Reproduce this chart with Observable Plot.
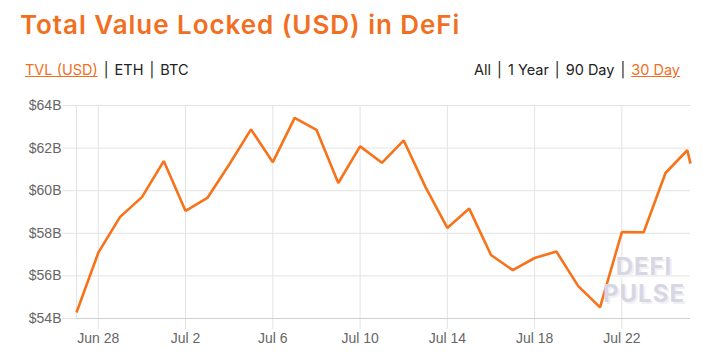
<!DOCTYPE html>
<html>
<head>
<meta charset="utf-8">
<script src="https://cdn.jsdelivr.net/npm/d3@7"></script>
<script src="https://cdn.jsdelivr.net/npm/@observablehq/plot@0.6"></script>
<style>
  html, body { margin: 0; padding: 0; background: #fff; }
  body { width: 703px; height: 355px; position: relative; overflow: hidden; font-family: Inter, "Open Sans", sans-serif; }
  #title { position: absolute; left: 20px; top: 9px; font-size: 26px; font-weight: 600; color: #f26f21; letter-spacing: 0.95px; white-space: nowrap; }
  .links { position: absolute; top: 61px; font-size: 14.5px; color: #222; white-space: nowrap; }
  .links a { color: #f26f21; text-decoration: underline; }
  .sep { margin: 0 6px; }
  #left { left: 25px; }
  #right { right: 23px; }
  #chart { position: absolute; left: 0; top: 90px; }
  #wm { position: absolute; left: 594px; width: 100px; top: 253px; font-family: Inter, sans-serif; font-weight: 700; font-size: 24px; line-height: 27px; color: #d9d6e3; text-shadow: 2px 2px 0 #f1f0f5; text-align: center; letter-spacing: 1px; pointer-events: none; }
</style>
</head>
<body>
<div id="title">Total Value Locked (USD) in DeFi</div>
<div class="links" id="left"><a>TVL (USD)</a><span class="sep">|</span>ETH<span class="sep">|</span>BTC</div>
<div class="links" id="right">All<span class="sep">|</span>1 Year<span class="sep">|</span>90 Day<span class="sep">|</span><a>30 Day</a></div>
<div id="chart"></div>
<div id="wm">DEFI<br>PULSE</div>
<script>
// Daily TVL in billions of USD
const dates = [
  "2021-06-27","2021-06-28","2021-06-29","2021-06-30","2021-07-01","2021-07-02","2021-07-03",
  "2021-07-04","2021-07-05","2021-07-06","2021-07-07","2021-07-08","2021-07-09","2021-07-10",
  "2021-07-11","2021-07-12","2021-07-13","2021-07-14","2021-07-15","2021-07-16","2021-07-17",
  "2021-07-18","2021-07-19","2021-07-20","2021-07-21","2021-07-22","2021-07-23","2021-07-24",
  "2021-07-25","2021-07-25T03:30"
];
const tvl = [
  54.28, 57.09, 58.77, 59.70, 61.39, 59.05, 59.66,
  61.23, 62.88, 61.34, 63.42, 62.86, 60.36, 62.08,
  61.31, 62.36, 60.17, 58.25, 59.16, 56.98, 56.27,
  56.84, 57.14, 55.52, 54.52, 58.06, 58.05, 60.83,
  61.90, 61.27
];
const xTickDates = ["2021-06-28","2021-07-02","2021-07-06","2021-07-10","2021-07-14","2021-07-18","2021-07-22"];
const yTicks = [54, 56, 58, 60, 62, 64];
const xDomain = ["2021-06-27", "2021-07-25T03:30"];

const parse = s => new Date(s.length > 10 ? s + "Z" : s + "T00:00Z");
const data = dates.map((d, i) => ({date: parse(d), value: tvl[i]}));
const fmtDate = d3.utcFormat("%b %-d");

const chart = Plot.plot({
  width: 703,
  height: 265,
  marginTop: 15,
  marginBottom: 37,
  marginLeft: 76,
  marginRight: 13,
  style: {fontFamily: "'Liberation Sans', Arial, sans-serif", fontSize: "14px", color: "#666", background: "transparent"},
  x: {type: "utc", domain: xDomain.map(parse)},
  y: {domain: [54, 64]},
  marks: [
    Plot.gridY(yTicks, {stroke: "#e3e3e3", strokeOpacity: 1}),
    Plot.gridX(xTickDates.map(parse), {stroke: "#e3e3e3", strokeOpacity: 1}),
    Plot.axisY(yTicks, {tickSize: 14, tickPadding: 1, stroke: "#e3e3e3", tickFormat: d => `$${d}B`, label: null, fill: "#666"}),
    Plot.axisX(xTickDates.map(parse), {tickSize: 11, tickPadding: 4, stroke: "#e3e3e3", tickFormat: fmtDate, label: null, fill: "#666"}),
    Plot.ruleX([parse(xDomain[0])], {stroke: "#e3e3e3"}),
    Plot.ruleY([54], {stroke: "#cfcfcf"}),
    Plot.line(data, {x: "date", y: "value", stroke: "#f8721a", strokeWidth: 2.6, strokeLinejoin: "miter", strokeLinecap: "butt"})
  ]
});
document.getElementById("chart").appendChild(chart);
</script>
</body>
</html>
